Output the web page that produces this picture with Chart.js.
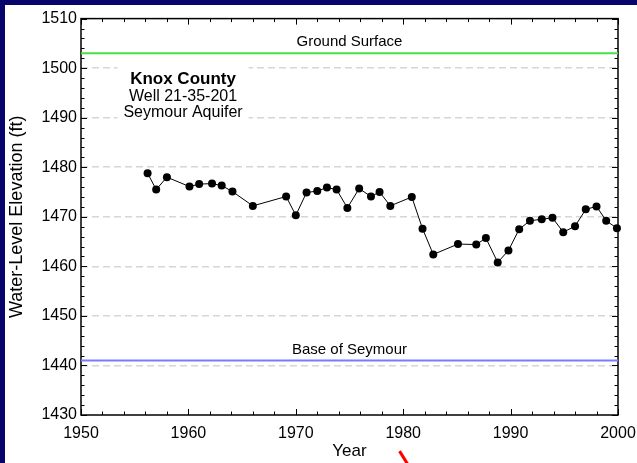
<!DOCTYPE html>
<html>
<head>
<meta charset="utf-8">
<script src="https://cdn.jsdelivr.net/npm/chart.js@4.4.1/dist/chart.umd.min.js"></script>
<style>
html,body{margin:0;padding:0;}
body{width:637px;height:463px;background:#06066a;position:relative;overflow:hidden;}
#box{position:absolute;left:5px;top:5px;width:632px;height:458px;background:#fff;}
#slash{position:absolute;left:402px;top:450px;width:3px;height:15px;background:#f00;transform:rotate(-32deg);}
</style>
</head>
<body>
<div id="box"><canvas id="wellChart"></canvas></div>
<div id="slash"></div>
<script>
// measured water levels, Knox County well 21-35-201
const years = [1956.2, 1957.0, 1958.0, 1960.1, 1961.0, 1962.2, 1963.1, 1964.1, 1966.0, 1969.1,
    1970.0, 1971.0, 1972.0, 1972.9, 1973.8, 1974.8, 1975.9, 1977.0, 1977.8, 1978.8,
    1980.8, 1981.8, 1982.8, 1985.1, 1986.8, 1987.7, 1988.8, 1989.8, 1990.8, 1991.8,
    1992.9, 1993.9, 1994.9, 1996.0, 1997.0, 1998.0, 1998.9, 1999.9];
const levels = [1478.8, 1475.5, 1478.0, 1476.1, 1476.6, 1476.7, 1476.3, 1475.1, 1472.2, 1474.1,
    1470.3, 1474.9, 1475.2, 1475.9, 1475.5, 1471.8, 1475.7, 1474.1, 1475.0, 1472.2,
    1474.0, 1467.6, 1462.4, 1464.5, 1464.4, 1465.7, 1460.8, 1463.2, 1467.5, 1469.2,
    1469.5, 1469.8, 1466.9, 1468.1, 1471.5, 1472.1, 1469.2, 1467.7];

const yearRange = [1950, 2000];
const elevRange = [1430, 1510];
const groundSurface = 1503;
const baseOfSeymour = 1441;
const wellLabel = ["Knox County", "Well 21-35-201", "Seymour Aquifer"];

const FONT = '"Liberation Sans", Arial, sans-serif';
Chart.defaults.font.family = FONT;
Chart.defaults.color = "#000";

// frame with inside ticks (major every 10, minor every 2)
const frameTicks = {
    id: "frameTicks",
    beforeDatasetsDraw(chart) {
        const {ctx, chartArea: a, scales: {x, y}} = chart;
        ctx.save();
        ctx.strokeStyle = "#000";
        ctx.lineWidth = 1;
        ctx.beginPath();
        for (let v = yearRange[0]; v <= yearRange[1]; v += 2) {
            const px = Math.round(x.getPixelForValue(v)) + 0.5;
            const len = v % 10 === 0 ? 6 : 3.5;
            ctx.moveTo(px, a.bottom); ctx.lineTo(px, a.bottom - len);
            ctx.moveTo(px, a.top); ctx.lineTo(px, a.top + len);
        }
        for (let v = elevRange[0]; v <= elevRange[1]; v += 2) {
            const py = Math.round(y.getPixelForValue(v)) + 0.5;
            const len = v % 10 === 0 ? 6 : 3.5;
            ctx.moveTo(a.left, py); ctx.lineTo(a.left + len, py);
            ctx.moveTo(a.right, py); ctx.lineTo(a.right - len, py);
        }
        ctx.stroke();
        ctx.lineWidth = 1.5;
        ctx.strokeRect(a.left, a.top, a.right - a.left, a.bottom - a.top);
        ctx.restore();
    }
};

const notes = {
    id: "notes",
    beforeDatasetsDraw(chart) {
        const {ctx, scales: {x, y}} = chart;
        ctx.save();
        ctx.textAlign = "center";
        ctx.textBaseline = "middle";
        ctx.fillStyle = "#000";
        ctx.font = "15px " + FONT;
        const mid = x.getPixelForValue(1975);
        ctx.fillText("Ground Surface", mid, y.getPixelForValue(groundSurface + 2.3));
        ctx.fillText("Base of Seymour", mid, y.getPixelForValue(baseOfSeymour + 2.2));

        const cx = x.getPixelForValue(1959.5);
        const ys = [1497.8, 1494.3, 1491.0].map(v => y.getPixelForValue(v));
        const fonts = ["bold 17px " + FONT, "16px " + FONT, "16px " + FONT];
        let w = 0;
        wellLabel.forEach((t, i) => { ctx.font = fonts[i]; w = Math.max(w, ctx.measureText(t).width); });
        ctx.fillStyle = "#fff";
        ctx.fillRect(cx - w / 2 - 6, ys[0] - 13, w + 12, ys[2] - ys[0] + 24);
        ctx.fillStyle = "#000";
        wellLabel.forEach((t, i) => { ctx.font = fonts[i]; ctx.fillText(t, cx, ys[i]); });
        ctx.restore();
    }
};

const pts = years.map((yr, i) => ({x: yr, y: levels[i]}));
const plain = v => String(v);

new Chart(document.getElementById("wellChart"), {
    type: "line",
    data: {
        datasets: [{
            data: [{x: yearRange[0], y: groundSurface}, {x: yearRange[1], y: groundSurface}],
            borderColor: "#45e045",
            borderWidth: 2,
            pointRadius: 0
        }, {
            data: [{x: yearRange[0], y: baseOfSeymour}, {x: yearRange[1], y: baseOfSeymour}],
            borderColor: "#7b7bff",
            borderWidth: 2,
            pointRadius: 0
        }, {
            label: "Water level",
            data: pts,
            borderColor: "#000",
            borderWidth: 1,
            pointRadius: 4,
            pointBackgroundColor: "#000",
            pointBorderWidth: 0,
            tension: 0,
            clip: false
        }]
    },
    options: {
        responsive: true,
        maintainAspectRatio: false,
        animation: false,
        layout: {padding: {left: 0, top: 11, right: 19, bottom: 0}},
        plugins: {legend: {display: false}, tooltip: {enabled: false}},
        scales: {
            x: {
                type: "linear",
                min: yearRange[0],
                max: yearRange[1],
                grid: {display: false, drawTicks: false},
                border: {display: false},
                ticks: {stepSize: 10, padding: 9, maxRotation: 0, autoSkip: false, font: {size: 16}, callback: plain},
                title: {display: true, text: "Year", font: {size: 17}, padding: {top: 0, bottom: 1}},
                afterFit(s) { s.height = 48; s.paddingLeft = 0; s.paddingRight = 0; }
            },
            y: {
                min: elevRange[0],
                max: elevRange[1],
                grid: {
                    drawTicks: false,
                    lineWidth: 1.5,
                    color: c => (c.tick && (c.tick.value === elevRange[0] || c.tick.value === elevRange[1])) ? "rgba(0,0,0,0)" : "#d6d6d6"
                },
                border: {display: false, dash: [7, 4]},
                ticks: {stepSize: 10, padding: 4, font: {size: 16}, callback: plain},
                title: {display: true, text: "Water-Level Elevation (ft)", font: {size: 18}, padding: {top: 1, bottom: 0}},
                afterFit(s) { s.width = 76; }
            }
        }
    },
    plugins: [frameTicks, notes]
});
</script>
</body>
</html>
